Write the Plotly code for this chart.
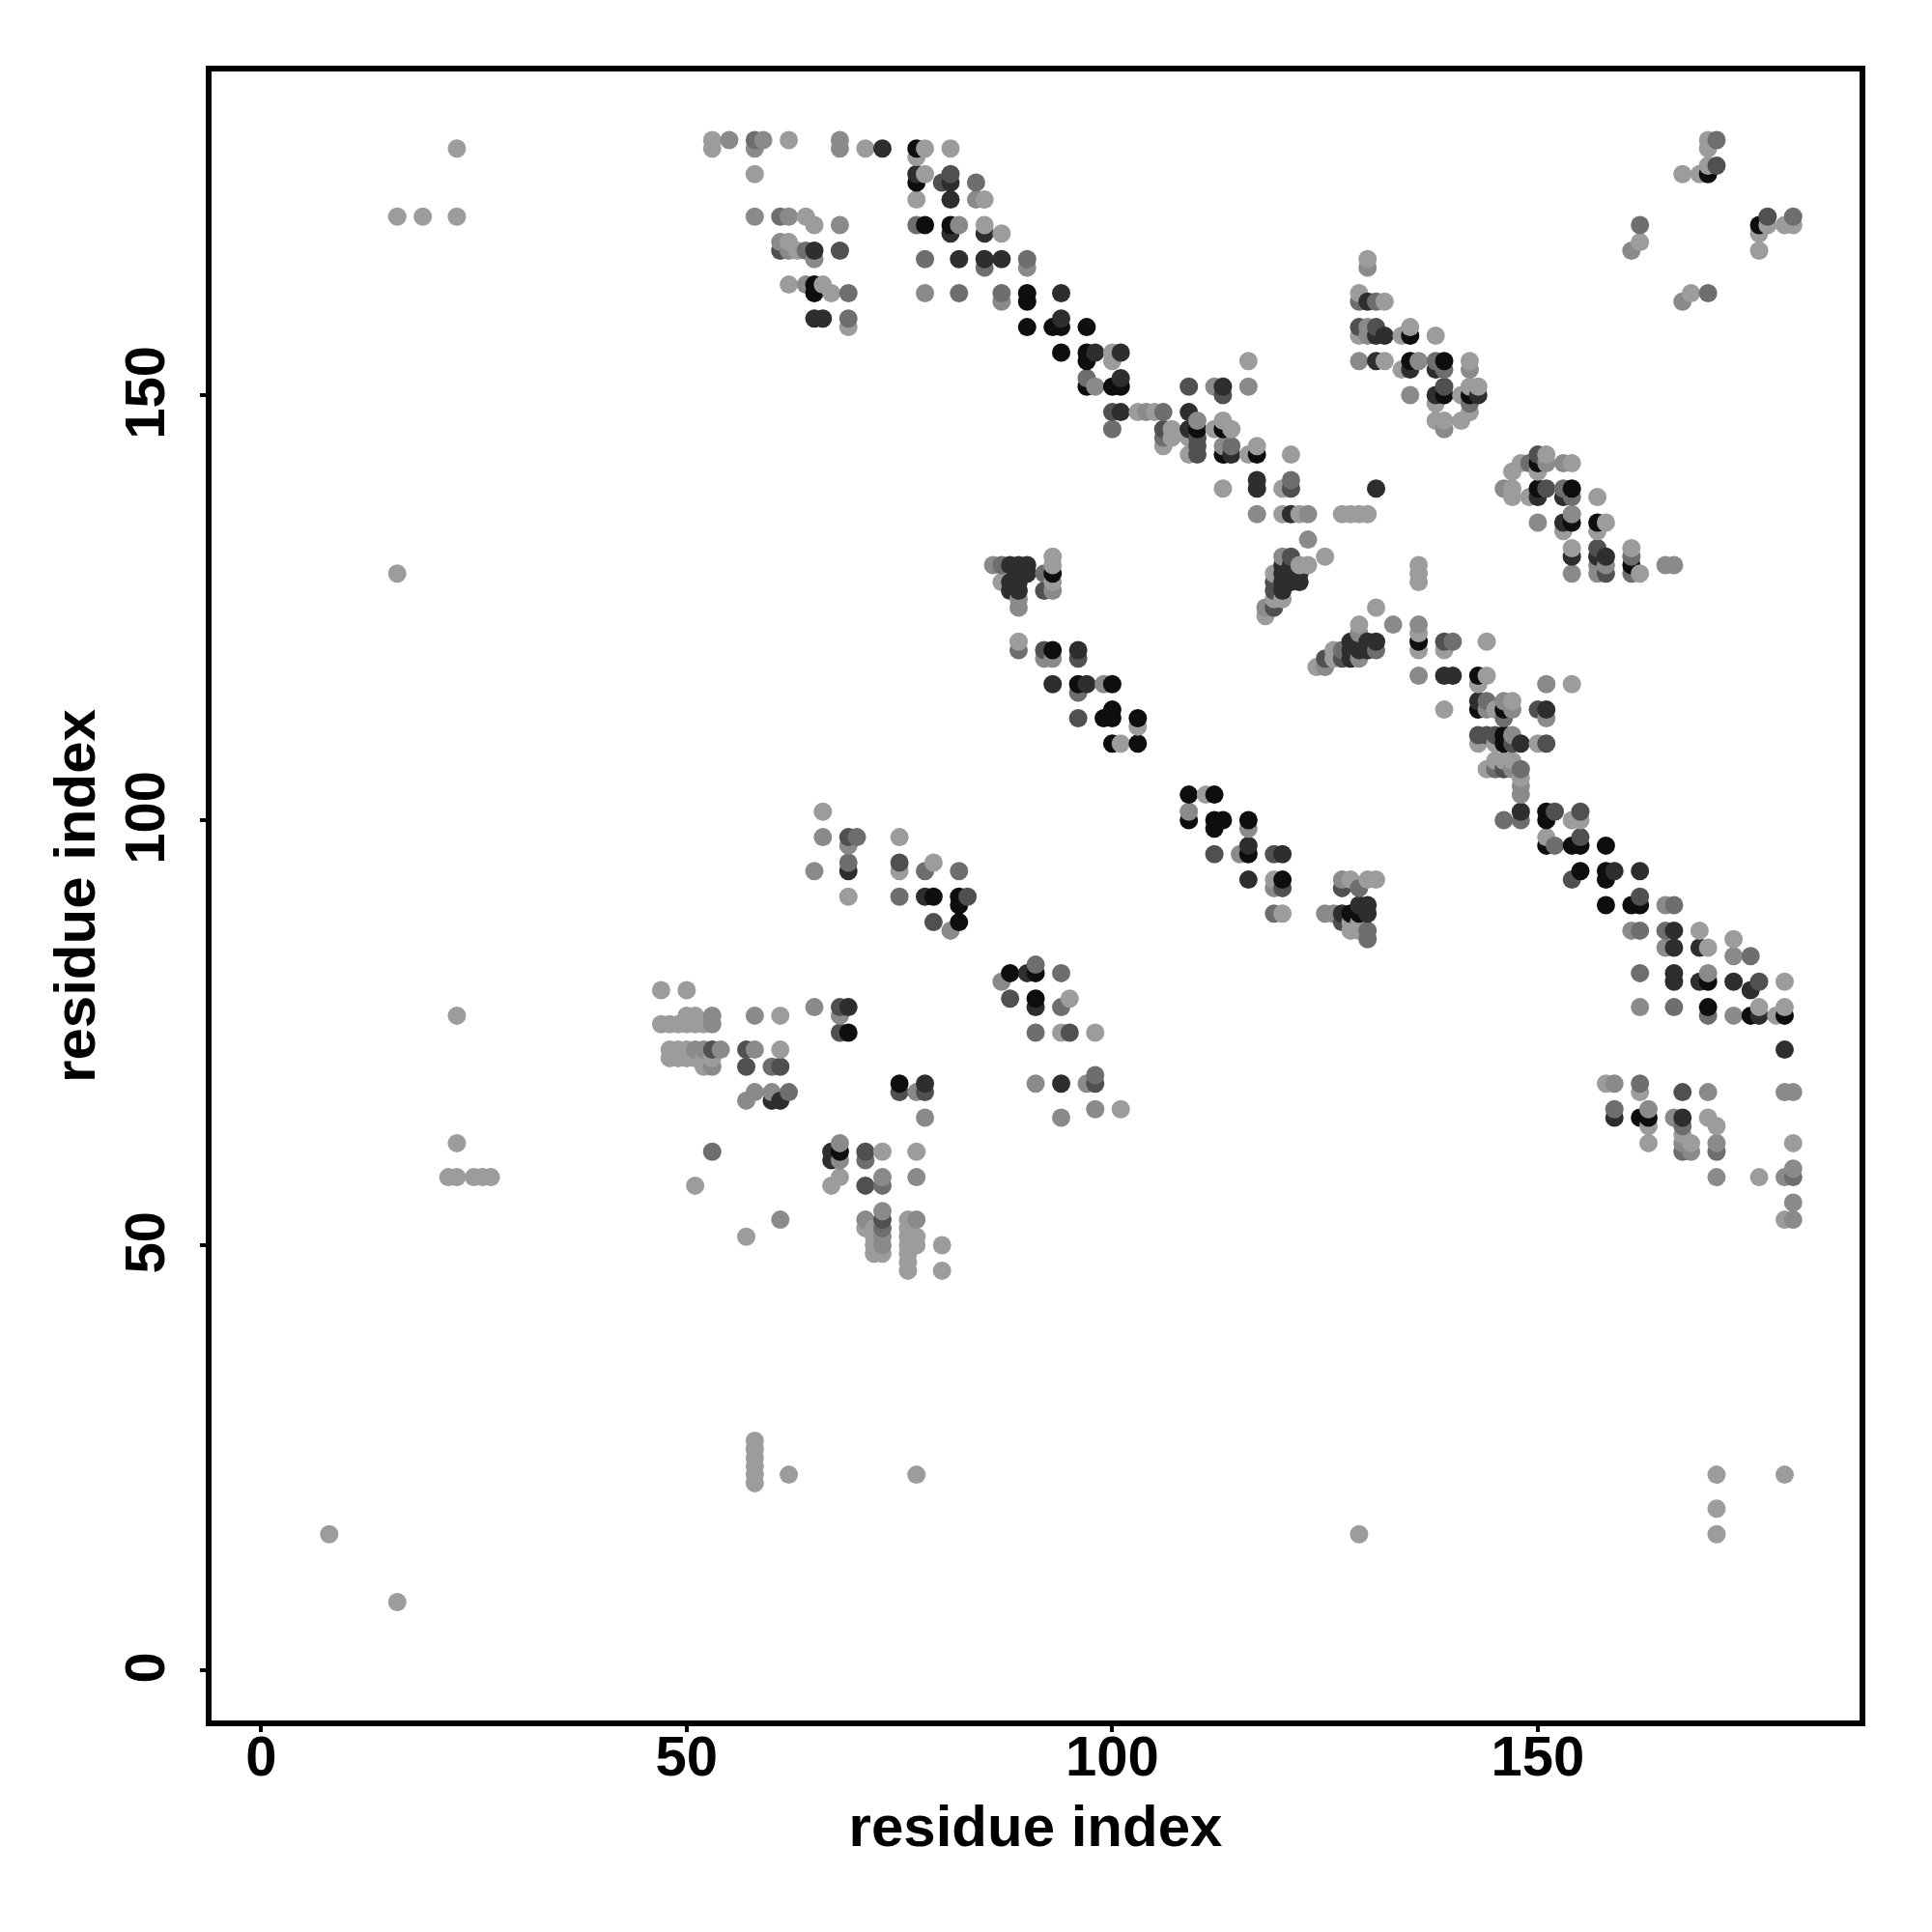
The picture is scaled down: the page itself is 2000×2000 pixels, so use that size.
import plotly.graph_objects as go

# Contacts (residue i, residue j), grouped by read-off score level
level_1 = [(53,180),(62,180),(53,179),(71,179),(78,179),(81,179),(77,178),(58,176),(78,176),(77,173),(85,173),(62,168),(64,171),(65,170),(85,170),(87,169),(63,167),(62,163),(66,163),(67,162),(69,158),(100,155),(100,154),(103,148),(105,148),(107,146),(107,145),(109,145),(112,146),(114,146),(106,144),(113,147),(117,144),(109,143),(116,143),(121,143),(120,139),(113,139),(120,136),(122,136),(127,136),(128,136),(129,136),(130,136),(125,131),(122,130),(123,130),(119,129),(119,126),(120,126),(118,124),(136,130),(136,129),(136,128),(131,125),(129,123),(136,122),(126,120),(136,120),(139,120),(126,119),(124,118),(144,121),(144,117),(143,116),(154,116),(139,113),(147,114),(145,113),(145,109),(143,109),(150,109),(145,107),(146,107),(147,107),(144,106),(148,105),(154,100),(155,100),(151,98),(169,87),(170,85),(173,86),(179,81),(176,78),(179,78),(178,77),(158,69),(162,68),(163,64),(163,62),(170,65),(171,64),(168,62),(180,62),(176,58),(179,53),(167,63),
(47,80),(50,80),(50,77),(51,77),(61,77),(47,76),(48,76),(49,76),(50,76),(51,76),(52,76),(48,73),(49,73),(50,73),(61,73),(48,72),(49,72),(50,72),(51,72),(52,72),(53,72),(52,71),(94,75),(98,75),(101,66),(73,61),(77,61),(51,57),(68,58),(67,57),(57,51),(71,52),(72,52),(72,51),(72,50),(72,49),(73,49),(76,53),(76,52),(76,51),(76,50),(76,49),(76,48),(76,47),(77,51),(77,50),(80,50),(80,47),(66,101),(75,98),(69,91),(75,94),(79,95),(95,79),(93,131),(93,130),(93,128),(87,128),(89,121),(111,103),(119,93),(128,93),(130,93),(131,93),(120,89),(128,88),(129,88),(128,87),(129,87),(101,109),(103,111),
(170,180),(170,179),(170,177),(167,176),(169,176),(162,168),(176,169),(176,167),(179,170),(180,170),(177,170),(129,162),(132,161),(135,158),(129,157),(134,157),(138,157),(132,154),(142,154),(134,153),(143,151),(142,151),(141,150),(138,149),(142,148),(138,147),(139,147),(141,147),(130,166),(168,162),
(151,143),(148,142),(154,142),(147,141),(150,141),(147,139),(147,138),(149,138),(157,138),(158,135),(153,134),(157,134),(154,132),(161,132),(162,129),
(23,179),(16,171),(19,171),(23,171),(16,129),(23,77),(23,62),(22,58),(23,58),(25,58),(26,58),(27,58),(58,27),(58,26),(58,25),(58,24),(58,23),(58,22),(62,23),(77,23),(171,23),(171,19),(171,16),(179,23),(129,16),(8,16),(16,8),(116,154)]

level_2 = [(55,180),(59,180),(68,180),(58,179),(68,179),(58,171),(62,171),(68,170),(82,170),(84,173),(61,168),(62,167),(65,166),(64,163),(78,162),(87,161),(90,165),(98,151),(104,148),(110,147),(112,151),(116,151),(113,144),(117,136),(123,136),(123,133),(120,131),(118,125),(125,118),(133,123),(136,123),(129,122),(129,119),(136,117),(151,116),(144,113),(147,113),(146,114),(151,112),(147,110),(147,106),(148,104),(148,103),(161,87),(165,90),(165,85),(173,84),(170,82),(162,78),(173,77),(159,69),(170,68),(179,68),(180,68),(171,58),(179,58),(180,59),(180,55),(180,53),(163,66),(166,65),(167,62),(168,61),(171,62),
(53,77),(58,77),(65,78),(68,77),(51,73),(52,73),(54,73),(58,73),(53,71),(58,68),(60,68),(57,67),(78,65),(94,65),(98,66),(91,69),(97,69),(77,68),(53,76),(68,62),(68,60),(73,58),(77,58),(61,53),(71,53),(73,54),(73,51),(73,50),(77,53),(66,98),(69,97),(65,94),(81,87),(87,81),(86,130),(89,126),(89,125),(92,119),(93,119),(93,127),(99,116),(109,101),(116,99),(115,96),(119,92),(125,89),(126,89),(127,93),
(161,167),(167,161),(130,165),(130,158),(130,157),(129,154),(135,150),(139,146),(142,153),(136,154),
(151,142),(153,142),(146,139),(150,135),(154,136),(157,130),(158,130),(165,130),(166,130),(154,129),(157,129)]

level_3 = [(58,180),(61,171),(77,170),(64,167),(78,166),(90,166),(85,165),(69,162),(82,162),(87,162),(69,159),(84,175),(97,152),(106,148),(100,146),(106,145),(114,144),(121,140),(127,120),(131,120),(140,121),(146,100),(148,100),(144,114),(146,112),(145,106),(148,106),(152,97),(166,90),(162,87),(165,87),(175,84),(162,82),(166,78),(170,77),(162,69),(159,66),(167,64),(167,61),(171,61),(180,58),
(53,61),(62,68),(60,71),(71,60),(73,57),(73,52),(91,75),(98,70),(70,98),(69,95),(78,94),(82,94),(75,91),(94,82),(91,83),(94,78),(87,130),(92,129),(89,120),(96,115),(119,89),(129,92),(130,87),(130,86),
(171,180),(162,170),(180,171),(170,162),(131,161),(129,161),(138,154),(139,153),(142,149),
(149,142),(153,139),(154,138),(161,131),(161,129)]

level_4 = [(81,176),(80,175),(61,167),(68,167),(109,151),(113,150),(100,148),(106,146),(110,145),(110,144),(110,143),(121,139),(121,131),(119,128),(119,127),(119,125),(125,119),(127,119),(139,121),(150,113),(151,109),(143,110),(144,110),(145,110),(147,109),(146,106),(152,101),(155,101),(155,98),(154,93),(162,91),(176,81),(167,68),(57,73),(53,73),(57,71),(61,71),(68,75),(68,78),(71,61),(71,57),(73,53),(95,75),(75,68),(78,68),(98,69),(69,98),(83,91),(75,95),(79,88),(88,79),(92,127),(92,120),(96,119),(96,112),(112,96),(119,96),(120,92),(127,92),(127,88),(177,171),(171,177),(129,158),(131,158),(139,151),(150,143),(151,139),(158,129),(157,132)]

level_5 = [(73,179),(77,176),(81,175),(81,173),(85,169),(81,169),(65,167),(82,166),(85,166),(87,166),(94,162),(65,159),(66,159),(94,159),(98,155),(101,155),(101,152),(101,148),(113,151),(109,148),(109,146),(114,143),(117,140),(117,139),(121,136),(131,139),(120,130),(121,130),(120,129),(121,129),(122,129),(120,128),(121,128),(122,128),(120,127),(128,121),(129,121),(130,121),(131,121),(128,120),(129,120),(130,120),(128,119),(139,117),(140,117),(143,114),(151,113),(148,109),(148,101),(159,94),(162,94),(166,87),(166,85),(169,85),(166,82),(166,81),(169,81),(173,81),(175,80),(176,77),(179,73),(159,65),(167,65),(69,78),(60,67),(61,67),(69,94),(78,91),(67,61),(67,60),(78,69),(94,69),(96,120),(93,116),(97,116),(116,93),(88,130),(89,130),(90,130),(89,129),(90,129),(88,128),(89,128),(88,127),(89,127),(90,82),(91,78),(129,90),(130,90),(130,89),(127,89),(116,97),(120,96),(130,161),(131,157),(132,157),(131,154),(135,153),(138,153),(143,150),(150,138),(153,138),(153,135),(154,131),(157,131),(158,131),(138,150)]

level_6 = [(77,179),(77,175),(78,170),(81,170),(65,163),(65,162),(90,162),(90,161),(90,158),(93,158),(94,158),(97,158),(94,155),(97,155),(97,154),(97,151),(100,151),(101,151),(110,146),(113,146),(113,143),(117,143),(136,121),(143,117),(146,113),(146,110),(146,109),(143,113),(151,101),(151,100),(151,97),(154,97),(155,97),(158,97),(155,94),(158,94),(158,93),(158,90),(161,90),(162,90),(170,81),(170,78),(175,77),(179,77),(162,65),(163,65),(69,75),(75,69),(68,61),(79,91),(82,91),(82,90),(82,88),(88,82),(91,82),(91,79),(93,120),(96,116),(100,116),(99,112),(100,112),(100,113),(103,112),(100,109),(103,109),(109,103),(112,103),(109,100),(112,100),(113,100),(112,99),(116,100),(116,96),(120,93),(128,89),(129,89),(93,129),(135,157),(135,154),(139,154),(139,150),(142,150),(170,176),(176,170),(150,142),(150,139),(154,139),(154,135),(157,135),(161,130)]

tick_values = [0, 50, 100, 150]
axis_title = "residue index"

levels = [level_1, level_2, level_3, level_4, level_5, level_6]
greys = ["#9c9c9c", "#8a8a8a", "#6e6e6e", "#505050", "#2e2e2e", "#0e0e0e"]

points = {}
for level, grey in zip(levels, greys):
    for pair in level:
        points[pair] = grey
ordered = sorted(points)

fig = go.Figure(go.Scatter(
    x=[p[0] for p in ordered], y=[p[1] for p in ordered], mode="markers",
    marker=dict(size=19, color=[points[p] for p in ordered], line=dict(width=0)),
    hoverinfo="skip", showlegend=False))

axis_style = dict(
    showgrid=False, zeroline=False, showline=True, linecolor="black", linewidth=6,
    mirror=True, ticks="outside", ticklen=6, tickwidth=4, tickcolor="black",
    tickmode="array", tickvals=tick_values, ticktext=[str(v) for v in tick_values],
    tickfont=dict(family="Liberation Sans", size=58, color="black", weight="bold"),
)
title_font = dict(family="Liberation Sans", size=60, color="black")
fig.update_xaxes(**axis_style, range=[-5.82, 187.8], ticklabelstandoff=-25,
                 title=dict(text=f"<b>{axis_title}</b>", standoff=22, font=title_font))
fig.update_yaxes(**axis_style, range=[-5.91, 188.07], tickangle=-90, ticklabelstandoff=14,
                 ticklabelshift=6,
                 title=dict(text=f"<b>{axis_title}</b>", standoff=1, font=title_font))
fig.update_layout(width=1992, height=1992, paper_bgcolor="white", plot_bgcolor="white",
                  margin=dict(l=211, r=75, t=66, b=219, autoexpand=False))
fig.write_html("out.html")
